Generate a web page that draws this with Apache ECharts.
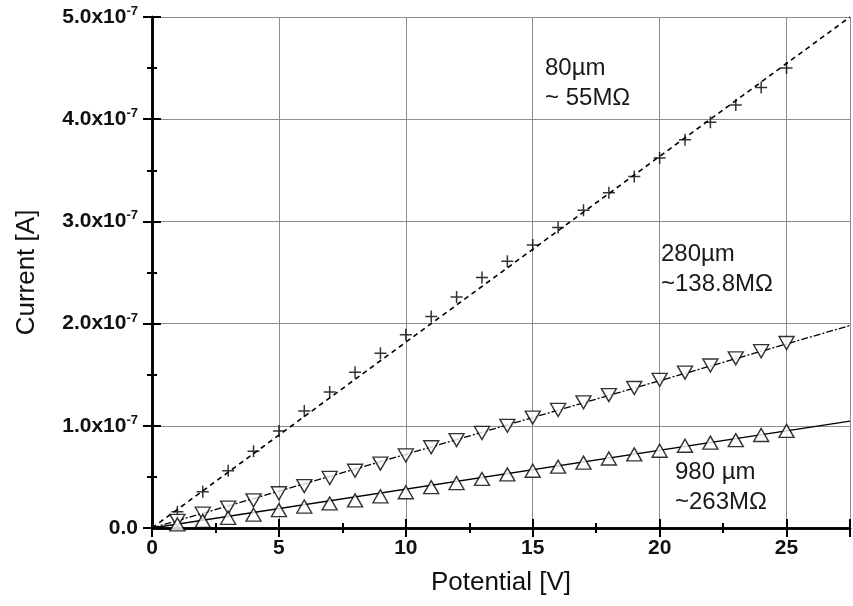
<!DOCTYPE html>
<html>
<head>
<meta charset="utf-8">
<script src="https://cdn.jsdelivr.net/npm/echarts@6/dist/echarts.min.js"></script>
<style>
  html, body { margin: 0; padding: 0; background: #fff; }
  #chart { width: 853px; height: 606px; }
</style>
</head>
<body>
<div id="chart"></div>
<script>
// Applied potential (V)
const potential = [1, 2, 3, 4, 5, 6, 7, 8, 9, 10, 11, 12, 13, 14, 15, 16, 17, 18, 19, 20, 21, 22, 23, 24, 25];

// Measured current (A) for each electrode gap
const current80um = [0.16e-7, 0.355e-7, 0.56e-7, 0.75e-7, 0.95e-7, 1.145e-7, 1.33e-7, 1.525e-7, 1.71e-7, 1.89e-7,
  2.07e-7, 2.26e-7, 2.45e-7, 2.61e-7, 2.77e-7, 2.94e-7, 3.11e-7, 3.28e-7, 3.44e-7, 3.62e-7,
  3.80e-7, 3.97e-7, 4.14e-7, 4.31e-7, 4.50e-7];
const current280um = [0.07e-7, 0.14e-7, 0.20e-7, 0.27e-7, 0.34e-7, 0.41e-7, 0.49e-7, 0.56e-7, 0.63e-7, 0.71e-7,
  0.79e-7, 0.86e-7, 0.93e-7, 1.00e-7, 1.08e-7, 1.155e-7, 1.23e-7, 1.30e-7, 1.37e-7, 1.45e-7,
  1.52e-7, 1.59e-7, 1.66e-7, 1.73e-7, 1.81e-7];
const current980um = [0.035e-7, 0.07e-7, 0.10e-7, 0.13e-7, 0.175e-7, 0.21e-7, 0.24e-7, 0.27e-7, 0.31e-7, 0.35e-7,
  0.40e-7, 0.44e-7, 0.48e-7, 0.525e-7, 0.56e-7, 0.60e-7, 0.64e-7, 0.68e-7, 0.72e-7, 0.756e-7,
  0.805e-7, 0.835e-7, 0.86e-7, 0.91e-7, 0.95e-7];

// Fitted resistances (ohm) used for the linear fits
const resistance = { r80: 55e6, r280: 138.8e6, r980: 263e6 };

// Axis ranges and annotation text
const xRange = [0, 27.5];
const yRange = [0, 5e-7];
const labels80 = ['80\u00b5m', '~ 55M\u03a9'];
const labels280 = ['280\u00b5m', '~138.8M\u03a9'];
const labels980 = ['980 \u00b5m', '~263M\u03a9'];

const pts = (ys) => potential.map((v, i) => [v, ys[i]]);
const fit = (r) => [[xRange[0], xRange[0] / r], [xRange[1], xRange[1] / r]];

const FONT = 'Liberation Sans, Arial, sans-serif';
const frameLine = { show: true, lineStyle: { color: '#000', width: 2.5 } };
const tickIn = { show: true, inside: true, length: 9, lineStyle: { color: '#000', width: 2 } };
const minorIn = { show: true, splitNumber: 2, length: 5, lineStyle: { color: '#000', width: 2 } };
const gridLines = { show: true, lineStyle: { color: '#8c8c8c', width: 1 } };

const chart = echarts.init(document.getElementById('chart'), null, { renderer: 'canvas' });

const plusSymbol = 'path://M0,6L12,6M6,0L6,12';
const markerStyle = { color: '#fff', borderColor: '#000', borderWidth: 1.4 };

const annot = (lines, x, y) => lines.map((t, i) => ({
  type: 'text', left: x, top: y + i * 30, z: 10,
  style: { text: t, fill: '#1a1a1a', font: '24px ' + FONT }
}));

chart.setOption({
  animation: false,
  backgroundColor: '#fff',
  grid: { left: 152, right: 3, top: 17, bottom: 78, outerBoundsMode: 'none', containLabel: false },
  xAxis: [{
    type: 'value', min: xRange[0], max: xRange[1], interval: 5,
    axisLine: frameLine, axisTick: tickIn, minorTick: minorIn,
    splitLine: gridLines,
    axisLabel: { showMaxLabel: false, color: '#111', fontFamily: FONT, fontWeight: 'bold', fontSize: 21, margin: 10 },
    name: 'Potential [V]', nameLocation: 'middle', nameGap: 42,
    nameTextStyle: { color: '#111', fontFamily: FONT, fontSize: 26 }
  }, {
    type: 'value', position: 'top', min: xRange[0], max: xRange[1], interval: 5,
    axisLine: frameLine, axisTick: tickIn, minorTick: minorIn,
    splitLine: { show: false }, axisLabel: { show: false }
  }],
  yAxis: [{
    type: 'value', min: yRange[0], max: yRange[1], interval: 1e-7,
    axisLine: frameLine, axisTick: tickIn, minorTick: minorIn,
    splitLine: gridLines,
    axisLabel: {
      margin: 14,
      formatter: (v) => v === 0 ? '{m|0.0}' : '{m|' + (v / 1e-7).toFixed(1) + 'x10}{s|-7}',
      rich: {
        m: { color: '#111', fontFamily: FONT, fontWeight: 'bold', fontSize: 21, lineHeight: 24 },
        s: { color: '#111', fontFamily: FONT, fontWeight: 'bold', fontSize: 13, verticalAlign: 'top', lineHeight: 12 }
      }
    },
    name: 'Current [A]', nameLocation: 'middle', nameGap: 112, nameRotate: 90,
    nameTextStyle: { color: '#111', fontFamily: FONT, fontSize: 26 }
  }, {
    type: 'value', position: 'right', min: yRange[0], max: yRange[1], interval: 1e-7,
    axisLine: frameLine, axisTick: tickIn, minorTick: minorIn,
    splitLine: { show: false }, axisLabel: { show: false }
  }],
  series: [
    { type: 'line', data: fit(resistance.r80), showSymbol: false, z: 2,
      lineStyle: { color: '#000', width: 1.6, type: [5, 4] } },
    { type: 'line', data: fit(resistance.r280), showSymbol: false, z: 2,
      lineStyle: { color: '#000', width: 1.3, type: [7, 2, 2, 2] } },
    { type: 'line', data: fit(resistance.r980), showSymbol: false, z: 2,
      lineStyle: { color: '#000', width: 1.4 } },
    { type: 'scatter', data: pts(current80um), symbol: plusSymbol, symbolSize: 12, z: 3,
      itemStyle: { color: 'none', borderColor: '#000', borderWidth: 1.5 } },
    { type: 'scatter', data: pts(current280um), symbol: 'triangle', symbolRotate: 180, symbolSize: [15, 13], z: 3,
      itemStyle: markerStyle },
    { type: 'scatter', data: pts(current980um), symbol: 'triangle', symbolSize: [15, 13], z: 3,
      itemStyle: markerStyle }
  ],
  graphic: [
    ...annot(labels80, 545, 56),
    ...annot(labels280, 661, 242),
    ...annot(labels980, 675, 460)
  ]
});
</script>
</body>
</html>
